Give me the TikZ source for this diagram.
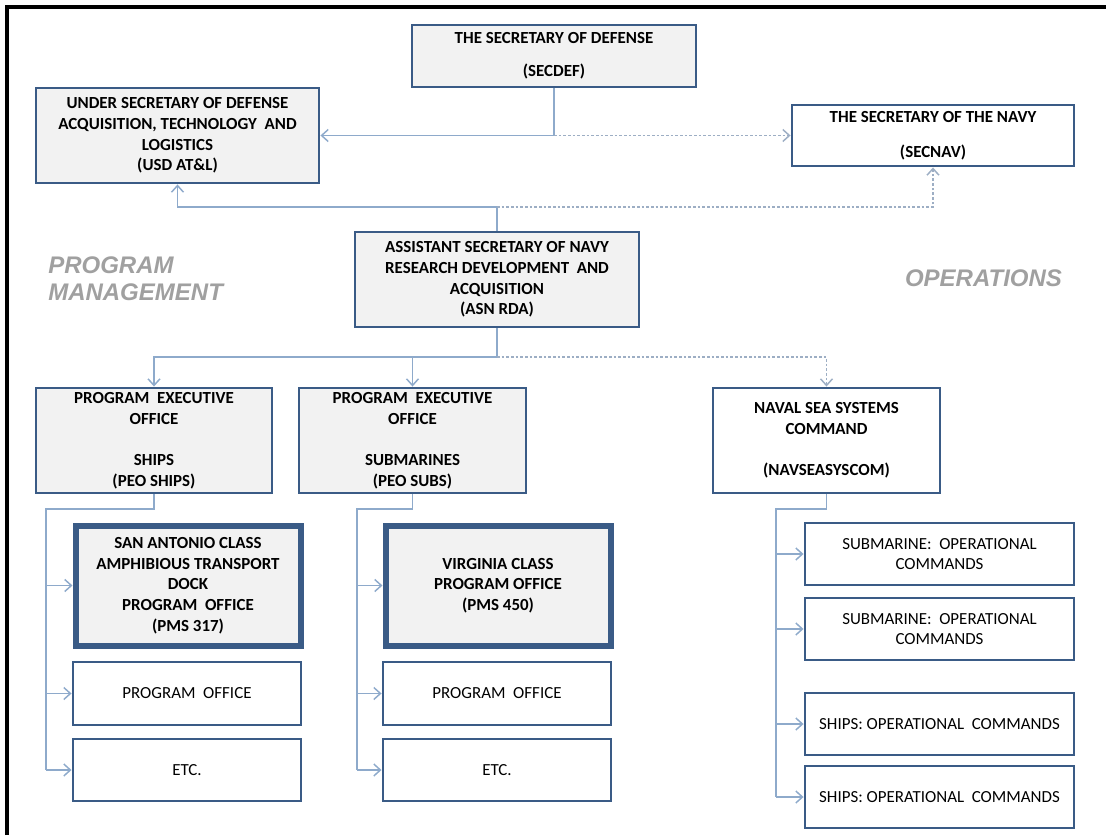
\documentclass[tikz,border=0pt]{standalone}
\usepackage{fontspec}
\setmainfont{Carlito}
\newfontfamily\sidefont{Liberation Sans}
\usetikzlibrary{arrows.meta}

\definecolor{boxline}{HTML}{3A5B86}
\definecolor{boxfill}{HTML}{F2F2F2}
\definecolor{linkline}{HTML}{8EAACB}
\definecolor{dotline}{HTML}{9DAEC4}
\definecolor{sidetext}{HTML}{A0A0A0}

\tikzset{
  box/.style={draw=boxline,line width=2.2pt,fill=white,inner sep=0pt,align=center,
    font=\fontsize{12.7}{15.5}\selectfont\bfseries},
  greybox/.style={box,fill=boxfill},
  thickbox/.style={greybox,line width=4.5pt},
  plainbox/.style={box,font=\fontsize{12.7}{15.5}\selectfont},
  link/.style={draw=linkline,line width=1.1pt},
  dotlink/.style={draw=dotline,line width=1.1pt,dash pattern=on 2pt off 1.5pt},
  tip/.style={-{Straight Barb[length=5pt,width=9pt]}},
  side/.style={text=sidetext,inner sep=0pt,font=\fontsize{18}{20.5}\sidefont\bfseries\itshape}
}

\begin{document}
\begin{tikzpicture}[x=0.75pt,y=-0.75pt]
\useasboundingbox (0,0) rectangle (1106,835);
\draw[line width=2.5pt] (7,835) -- (7,7) -- (1106,7);

% top level
\node[greybox,minimum width=213pt,minimum height=46.5pt] (secdef) at (554,56)
  {THE SECRETARY OF DEFENSE\\[9pt](SECDEF)};
\node[greybox,minimum width=212.25pt,minimum height=71.25pt] (usd) at (177.5,135.5)
  {UNDER SECRETARY OF DEFENSE\\ACQUISITION, TECHNOLOGY\ \ AND\\LOGISTICS\\(USD AT\&L)};
\node[box,minimum width=211.5pt,minimum height=45.75pt] (secnav) at (933,135.5)
  {THE SECRETARY OF THE NAVY\\[10.5pt](SECNAV)};
\node[greybox,minimum width=213pt,minimum height=71.25pt] (asn) at (497,279.5)
  {ASSISTANT SECRETARY OF NAVY\\RESEARCH DEVELOPMENT\ \ AND\\ACQUISITION\\(ASN RDA)};

\node[side,anchor=west,align=left] (pm) at (48,278.5) {PROGRAM\\MANAGEMENT};
\node[side] (ops) at (983.5,278) {OPERATIONS};

% second level
\node[greybox,minimum width=177pt,minimum height=78.75pt] (peoships) at (154,440.5)
  {PROGRAM\ \ EXECUTIVE\\OFFICE\\[15.5pt]SHIPS\\(PEO SHIPS)};
\node[greybox,minimum width=170.25pt,minimum height=78.75pt] (peosubs) at (412.5,440.5)
  {PROGRAM\ \ EXECUTIVE\\OFFICE\\[15.5pt]SUBMARINES\\(PEO SUBS)};
\node[box,minimum width=170.25pt,minimum height=78.75pt] (navsea) at (826.5,440.5)
  {NAVAL SEA SYSTEMS\\COMMAND\\[15.5pt](NAVSEASYSCOM)};

% program offices
\node[thickbox,minimum width=168.75pt,minimum height=90pt] (lpd) at (188,585.5)
  {SAN ANTONIO CLASS\\AMPHIBIOUS TRANSPORT\\DOCK\\PROGRAM\ \ OFFICE\\(PMS 317)};
\node[thickbox,minimum width=168.75pt,minimum height=90pt] (vcs) at (498,585.5)
  {VIRGINIA CLASS\\PROGRAM OFFICE\\(PMS 450)};
\node[plainbox,minimum width=171pt,minimum height=47.25pt] (pmo1) at (187,693.5) {PROGRAM\ \ OFFICE};
\node[plainbox,minimum width=171pt,minimum height=46.5pt] (etc1) at (187,770) {ETC.};
\node[plainbox,minimum width=171pt,minimum height=47.25pt] (pmo2) at (497,693.5) {PROGRAM\ \ OFFICE};
\node[plainbox,minimum width=171pt,minimum height=46.5pt] (etc2) at (497,770) {ETC.};

% operational commands
\foreach \n/\y/\t in {1/554/SUBMARINE:\ \ OPERATIONAL\\COMMANDS,
                      2/629/SUBMARINE:\ \ OPERATIONAL\\COMMANDS,
                      3/724/SHIPS: OPERATIONAL\ \ COMMANDS,
                      4/797/SHIPS: OPERATIONAL\ \ COMMANDS}
  \node[plainbox,minimum width=201.75pt,minimum height=46.5pt] (opc\n) at (939.5,\y) {\t};

% connectors
\draw[link,tip] (secdef.south) |- (usd.east);
\draw[dotlink,tip] (secdef.south |- secnav.west) -- (secnav.west);

\coordinate (asnup) at (asn.north |- 0,207);
\draw[link] (asn.north) -- (asnup);
\draw[link,tip] (asnup) -| (usd.south);
\draw[dotlink,tip] (asnup) -| (secnav.south);

\coordinate (asndown) at (asn.south |- 0,357);
\draw[link] (asn.south) -- (asndown);
\draw[link,tip] (asndown) -| (peoships.north);
\draw[link,tip] (peosubs.north |- asndown) -- (peosubs.north);
\draw[dotlink,tip] (asndown) -| (navsea.north);

\coordinate (shipsbus) at (46,509);
\coordinate (subsbus) at (357,509);
\coordinate (navbus) at (776,509);
\draw[link] (peoships.south) |- (shipsbus) -- (shipsbus |- etc1.west);
\draw[link] (peosubs.south) |- (subsbus) -- (subsbus |- etc2.west);
\draw[link] (navsea.south) |- (navbus) -- (navbus |- opc4.west);
\foreach \b in {lpd,pmo1,etc1}
  \draw[link,tip] (shipsbus |- \b.west) -- (\b.west);
\foreach \b in {vcs,pmo2,etc2}
  \draw[link,tip] (subsbus |- \b.west) -- (\b.west);
\foreach \n in {1,2,3,4}
  \draw[link,tip] (navbus |- opc\n.west) -- (opc\n.west);
\end{tikzpicture}
\end{document}
